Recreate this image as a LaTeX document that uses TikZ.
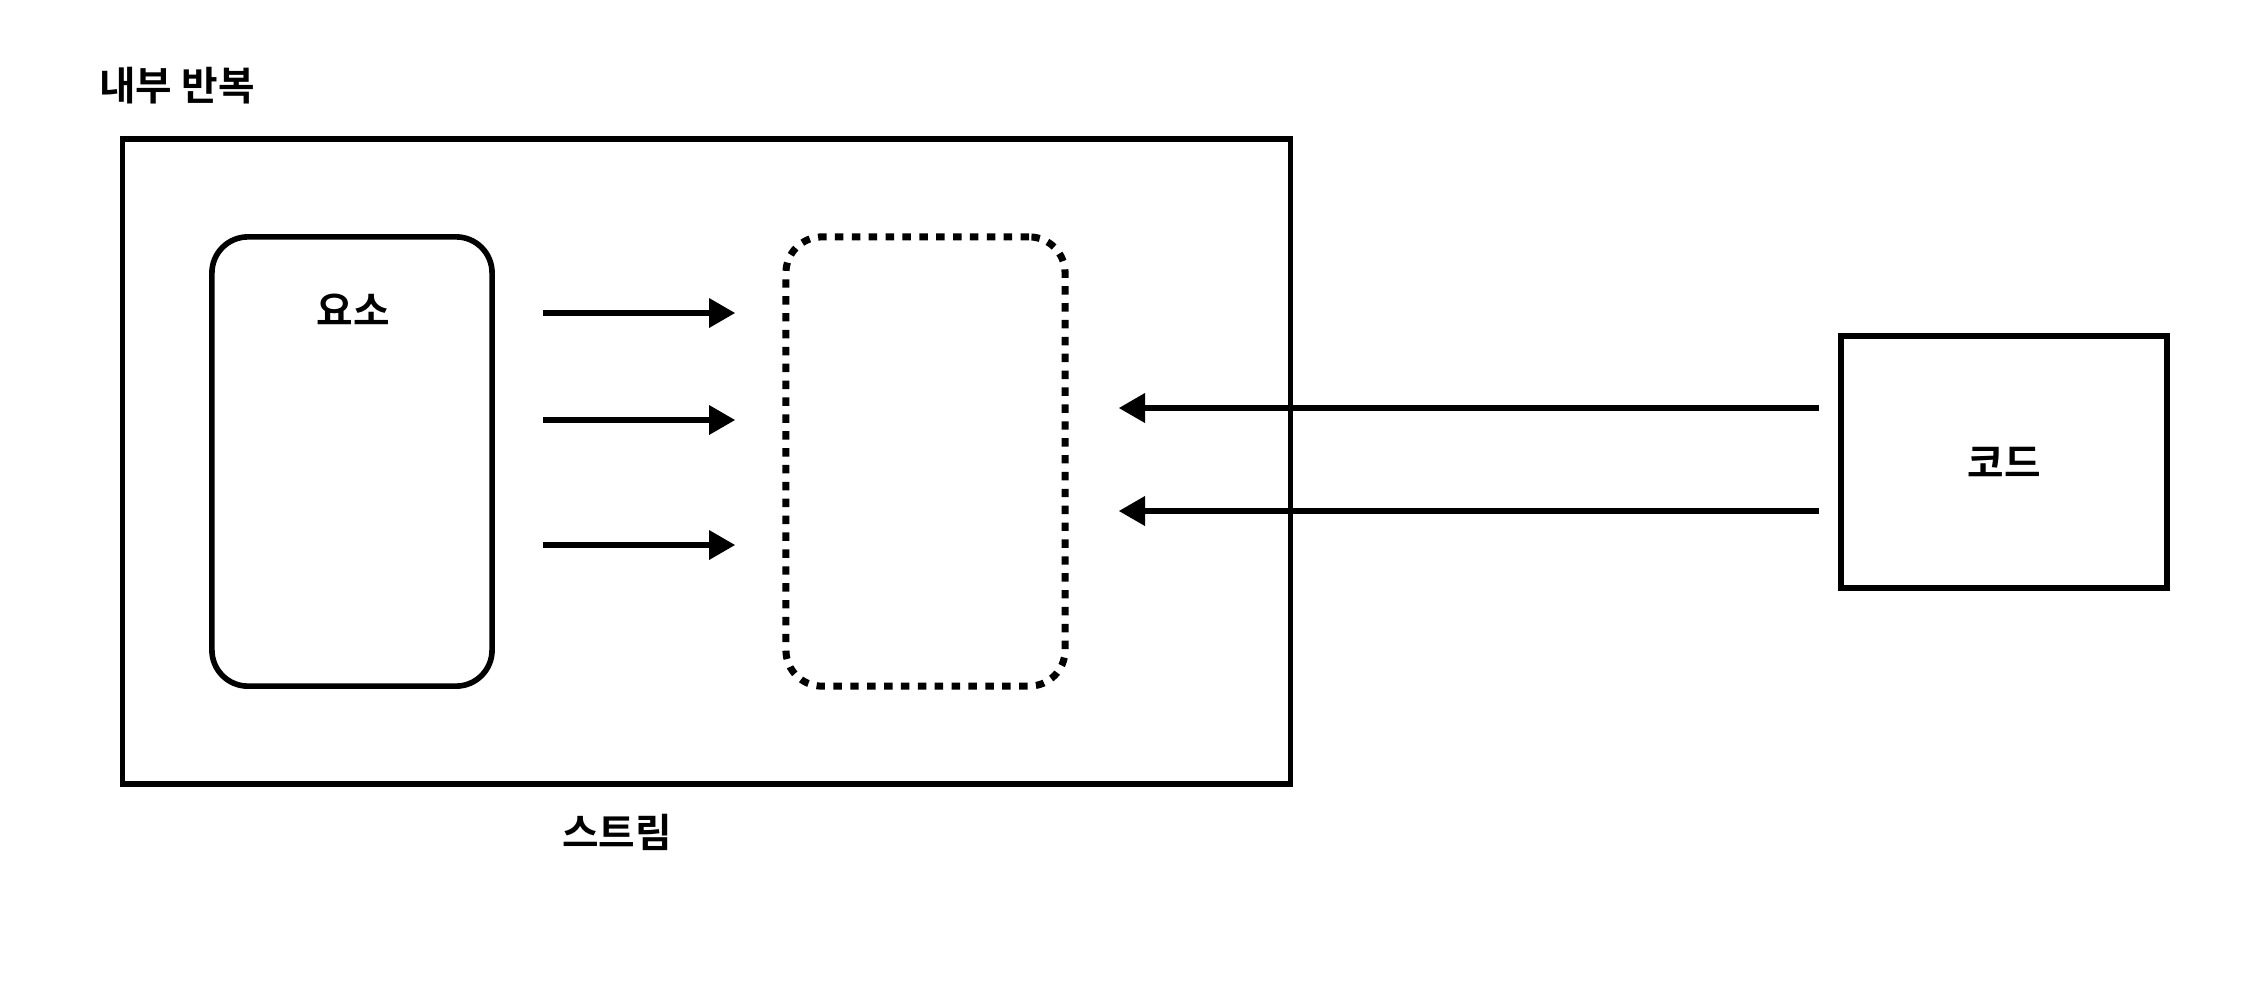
\documentclass[tikz,border=0pt]{standalone}
\usepackage{fontspec}
\setmainfont{Noto Sans CJK KR}[BoldFont={Noto Sans CJK KR Bold}]
\usetikzlibrary{arrows.meta, positioning, calc}

\begin{document}
\begin{tikzpicture}[x=0.01cm, y=-0.01cm,
  lbl/.style={font=\fontsize{11.3}{13}\selectfont\bfseries},
  frame/.style={draw, line width=1.6pt, inner sep=0pt},
  flow/.style={line width=1.8pt, -{Triangle[length=7.5pt, width=8pt]}}]
  \useasboundingbox (0,0) rectangle (2250,1002);

  % stream frame
  \node[frame, minimum width=11.67cm, minimum height=6.45cm] (stream) at (706.5, 461.5) {};
  \node[lbl, anchor=west] (title) at (87, 86) {내부 반복};
  \node[lbl] (streamlbl) at (617, 832) {스트림};

  % elements and the dotted target
  \node[frame, rounded corners=0.36cm, minimum width=2.8cm, minimum height=4.49cm] (elem) at (352, 461.5) {};
  \node[lbl] (elemlbl) at (353, 310) {요소};
  \node[draw, line width=2pt, dash pattern=on 2.4pt off 2.4pt, rounded corners=0.36cm,
        minimum width=2.79cm, minimum height=4.49cm] (sink) at (925.5, 461.5) {};

  % code
  \node[frame, minimum width=3.26cm, minimum height=2.52cm] (code) at (2004, 462) {};
  \node[lbl] (codelbl) at (code.center) {코드};

  % arrows
  \foreach \y in {313, 420, 545}
    \draw[flow, shorten <=0.48cm, shorten >=0.47cm] (elem.east |- 0,\y) -- (sink.west |- 0,\y);
  \foreach \y in {408, 511}
    \draw[flow, shorten <=0.19cm, shorten >=0.50cm] (code.west |- 0,\y) -- (sink.east |- 0,\y);
\end{tikzpicture}
\end{document}
